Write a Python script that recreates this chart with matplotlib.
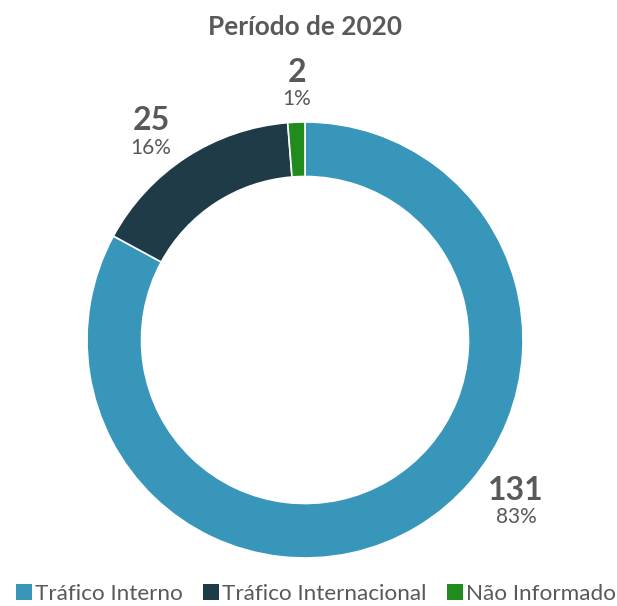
import matplotlib
matplotlib.use("Agg")
from matplotlib import pyplot as plt
from matplotlib.patches import Patch

plt.rcParams['font.family'] = ['Lato', 'DejaVu Sans']

categories = ['Tráfico Interno', 'Tráfico Internacional', 'Não Informado']
values = [131, 25, 2]
percent_labels = ['83%', '16%', '1%']
colors = ['#3796ba', '#1f3b48', '#228b1e']
# label positions in pixels (x, y from top)
label_px = [(516, 490), (151, 121), (297, 72)]

W, H = 617, 606
fig = plt.figure(figsize=(W / 100, H / 100), dpi=100)

cx, cy, r = 305, 340, 218
ax = fig.add_axes([(cx - r) / W, (H - cy - r) / H, 2 * r / W, 2 * r / H])
ax.pie(values, colors=colors, startangle=90, counterclock=False, radius=1,
       wedgeprops=dict(width=0.25, edgecolor='white', linewidth=1.2))
ax.set_xlim(-1, 1)
ax.set_ylim(-1, 1)
ax.set_aspect('equal')
ax.axis('off')

fig.text(cx / W, 1 - 27 / H, 'Período de 2020', ha='center', va='center',
         fontsize=18.8, fontweight='bold', color='#595959')

for v, p, (x, y) in zip(values, percent_labels, label_px):
    fig.text(x / W, 1 - y / H, str(v), ha='center', va='center',
             fontsize=23, fontweight='bold', color='#595959')
    fig.text(x / W, 1 - (y + 27) / H, p, ha='center', va='center',
             fontsize=15, color='#595959')

handles = [Patch(facecolor=c, edgecolor='none') for c in colors]
fig.legend(handles, categories, loc='center', bbox_to_anchor=(316 / W, 1 - 594 / H),
           ncol=3, frameon=False, fontsize=16.2, handlelength=0.7, handleheight=0.7,
           handletextpad=0.15, columnspacing=0.9, labelcolor='#595959',
           borderpad=0, borderaxespad=0)

fig.savefig('out.png', dpi=100)
